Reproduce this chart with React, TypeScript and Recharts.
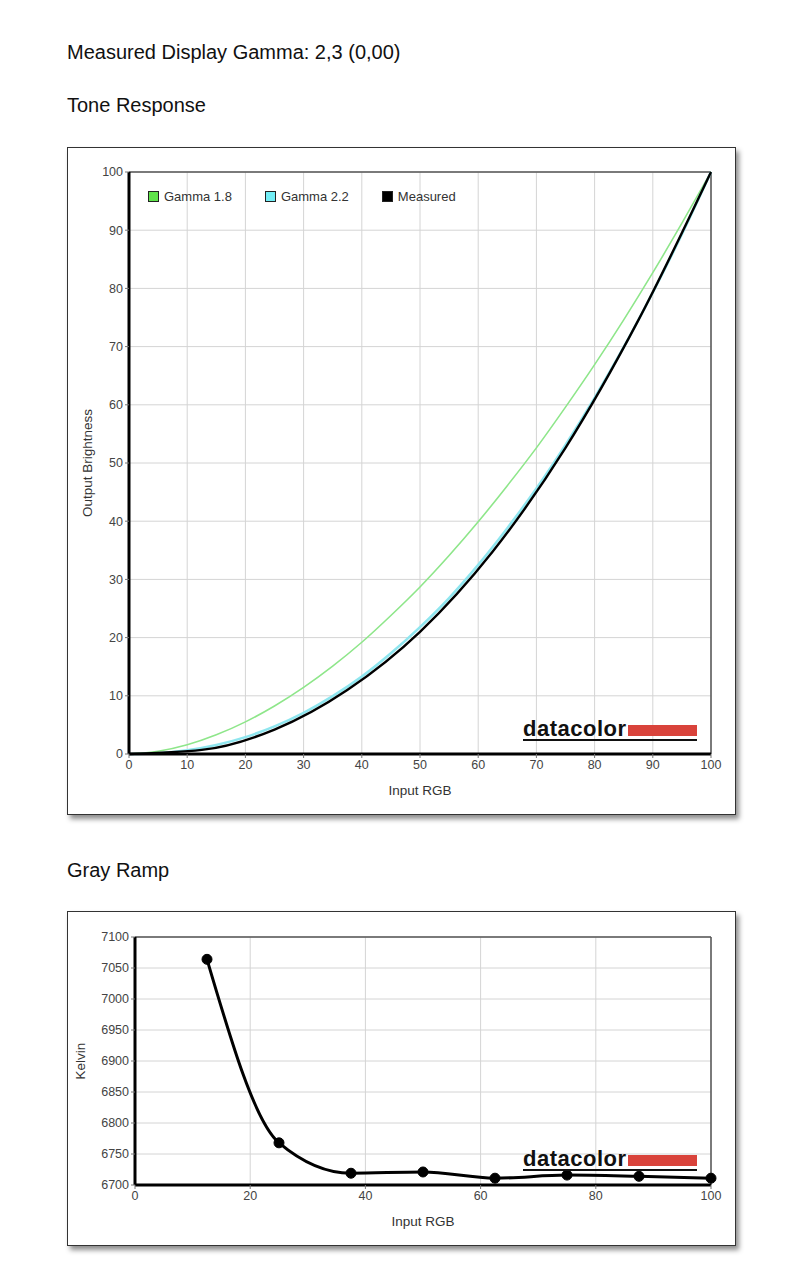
import React from "react";
import {
  LineChart,
  Line,
  XAxis,
  YAxis,
  CartesianGrid,
  ReferenceLine,
  Legend,
} from "recharts";

// tone response: reference gamma curves
const gammaX = [0, 5, 10, 15, 20, 25, 30, 35, 40, 45, 50, 55, 60, 65, 70, 75, 80, 85, 90, 95, 100];
const gamma18 = [0, 0.46, 1.58, 3.29, 5.52, 8.25, 11.45, 15.1, 19.2, 23.8, 28.7, 34.1, 39.9, 46.1, 52.6, 59.6, 66.9, 74.6, 82.7, 91.2, 100];
const gamma22 = [0, 0.14, 0.63, 1.54, 2.9, 4.74, 7.07, 9.93, 13.3, 17.3, 21.8, 26.8, 32.5, 38.8, 45.6, 53.1, 61.2, 69.9, 79.3, 89.3, 100];

// tone response: measured
const measuredX = [0, 12.5, 25, 37.5, 50, 62.5, 75, 87.5, 100];
const measuredY = [0, 0.7, 4.2, 11.0, 21.0, 34.8, 52.6, 74.5, 100];

// gray ramp
const rampX = [12.5, 25, 37.5, 50, 62.5, 75, 87.5, 100];
const rampK = [7064, 6768, 6719, 6721, 6711, 6716, 6714, 6711];

const toneTicks = [0, 10, 20, 30, 40, 50, 60, 70, 80, 90, 100];
const rampXTicks = [0, 20, 40, 60, 80, 100];
const rampYTicks = [6700, 6750, 6800, 6850, 6900, 6950, 7000, 7050, 7100];

const swatch: Record<string, string> = {
  "Gamma 1.8": "#5fe34a",
  "Gamma 2.2": "#72eef6",
  Measured: "#000000",
};

const g18 = gammaX.map((x, i) => ({ x, y: gamma18[i] }));
const g22 = gammaX.map((x, i) => ({ x, y: gamma22[i] }));
const meas = measuredX.map((x, i) => ({ x, y: measuredY[i] }));
const ramp = rampX.map((x, i) => ({ x, k: rampK[i] }));

const tickStyle = { fontSize: 12.5, fill: "#444", fontFamily: "Liberation Sans, Arial, sans-serif" };
const labelStyle = { fontSize: 13.5, fill: "#333", fontFamily: "Liberation Sans, Arial, sans-serif" };

const boxStyle: React.CSSProperties = {
  position: "absolute",
  left: 59,
  width: 669,
  boxSizing: "border-box",
  border: "1px solid #333",
  background: "#fff",
  boxShadow: "3px 4px 5px rgba(0,0,0,0.45)",
};

const headStyle: React.CSSProperties = {
  position: "absolute",
  left: 59,
  margin: 0,
  fontSize: 20,
  lineHeight: "24px",
  fontWeight: 400,
  color: "#111",
  fontFamily: "Liberation Sans, Arial, sans-serif",
  whiteSpace: "nowrap",
};

function Logo({ top }: { top: number }) {
  return (
    <svg
      width={178}
      height={28}
      style={{ position: "absolute", left: 454, top }}
    >
      <text
        x={1}
        y={20}
        fontSize={22}
        fontWeight={700}
        fontFamily="Liberation Sans, Arial, sans-serif"
        fill="#111"
        letterSpacing={0.5}
      >
        datacolor
      </text>
      <rect x={106} y={9} width={69} height={11} fill="#d9433b" />
      <line x1={1} x2={175} y1={24} y2={24} stroke="#111" strokeWidth={2} />
    </svg>
  );
}

function ToneLegend(props: any) {
  const items = props.payload || [];
  return (
    <div style={{ display: "flex", fontSize: 13, fontFamily: "Liberation Sans, Arial, sans-serif", color: "#333" }}>
      {items.map((it: any) => (
        <div key={it.value} style={{ display: "flex", alignItems: "center", marginRight: 33 }}>
          <span
            style={{
              display: "inline-block",
              width: 9,
              height: 9,
              border: "1px solid #222",
              background: swatch[it.value] || it.color,
              marginRight: 5,
            }}
          />
          {it.value}
        </div>
      ))}
    </div>
  );
}

export default function App() {
  return (
    <div style={{ position: "relative", width: 784, height: 1265 }}>
      <div style={{ ...headStyle, top: 32 }}>Measured Display Gamma: 2,3 (0,00)</div>
      <div style={{ ...headStyle, top: 85 }}>Tone Response</div>

      <div style={{ ...boxStyle, top: 139, height: 668 }}>
        <LineChart width={667} height={666} margin={{ top: 24, right: 24, bottom: 30, left: 0 }}>
          <CartesianGrid stroke="#d4d4d4" strokeWidth={1} />
          <XAxis
            type="number"
            dataKey="x"
            domain={[0, 100]}
            ticks={toneTicks}
            height={30}
            tick={tickStyle}
            tickLine={{ stroke: "#777" }}
            tickSize={4}
            axisLine={{ stroke: "#000", strokeWidth: 3 }}
            label={{ value: "Input RGB", position: "bottom", offset: 1, style: labelStyle }}
          />
          <YAxis
            type="number"
            domain={[0, 100]}
            ticks={toneTicks}
            width={61}
            tick={tickStyle}
            tickLine={{ stroke: "#777" }}
            tickSize={4}
            axisLine={{ stroke: "#000", strokeWidth: 3 }}
            label={{
              value: "Output Brightness",
              angle: -90,
              position: "insideLeft",
              offset: 19,
              style: { ...labelStyle, textAnchor: "middle" },
            }}
          />
          <ReferenceLine y={100} stroke="#555" strokeWidth={1.5} />
          <ReferenceLine x={100} stroke="#555" strokeWidth={1.5} />
          <Legend
            layout="horizontal"
            verticalAlign="middle"
            align="center"
            content={ToneLegend}
            wrapperStyle={{ top: 41, left: 80, width: "auto", height: 18 }}
          />
          <Line
            data={g18}
            dataKey="y"
            name="Gamma 1.8"
            type="monotone"
            stroke="#8ee68a"
            strokeWidth={1.6}
            dot={false}
            isAnimationActive={false}
          />
          <Line
            data={g22}
            dataKey="y"
            name="Gamma 2.2"
            type="monotone"
            stroke="#8fe6ef"
            strokeWidth={2.6}
            dot={false}
            isAnimationActive={false}
          />
          <Line
            data={meas}
            dataKey="y"
            name="Measured"
            type="monotone"
            stroke="#000"
            strokeWidth={2.4}
            dot={false}
            isAnimationActive={false}
          />
        </LineChart>
        <Logo top={568} />
      </div>

      <div style={{ ...headStyle, top: 850 }}>Gray Ramp</div>

      <div style={{ ...boxStyle, top: 903, height: 335 }}>
        <LineChart width={667} height={333} data={ramp} margin={{ top: 25, right: 24, bottom: 30, left: 0 }}>
          <CartesianGrid stroke="#d4d4d4" strokeWidth={1} />
          <XAxis
            type="number"
            dataKey="x"
            domain={[0, 100]}
            ticks={rampXTicks}
            height={30}
            tick={tickStyle}
            tickLine={{ stroke: "#777" }}
            tickSize={4}
            axisLine={{ stroke: "#000", strokeWidth: 3 }}
            label={{ value: "Input RGB", position: "bottom", offset: 1, style: labelStyle }}
          />
          <YAxis
            type="number"
            domain={[6700, 7100]}
            ticks={rampYTicks}
            width={67}
            tick={tickStyle}
            tickLine={{ stroke: "#777" }}
            tickSize={4}
            axisLine={{ stroke: "#000", strokeWidth: 3 }}
            label={{
              value: "Kelvin",
              angle: -90,
              position: "insideLeft",
              offset: 12,
              style: { ...labelStyle, textAnchor: "middle" },
            }}
          />
          <ReferenceLine y={7100} stroke="#555" strokeWidth={1.5} />
          <ReferenceLine x={100} stroke="#555" strokeWidth={1.5} />
          <Line
            dataKey="k"
            name="Kelvin"
            type="monotone"
            stroke="#000"
            strokeWidth={3}
            dot={{ r: 5, fill: "#000", stroke: "#000", strokeWidth: 1 }}
            isAnimationActive={false}
          />
        </LineChart>
        <Logo top={234} />
      </div>
    </div>
  );
}
